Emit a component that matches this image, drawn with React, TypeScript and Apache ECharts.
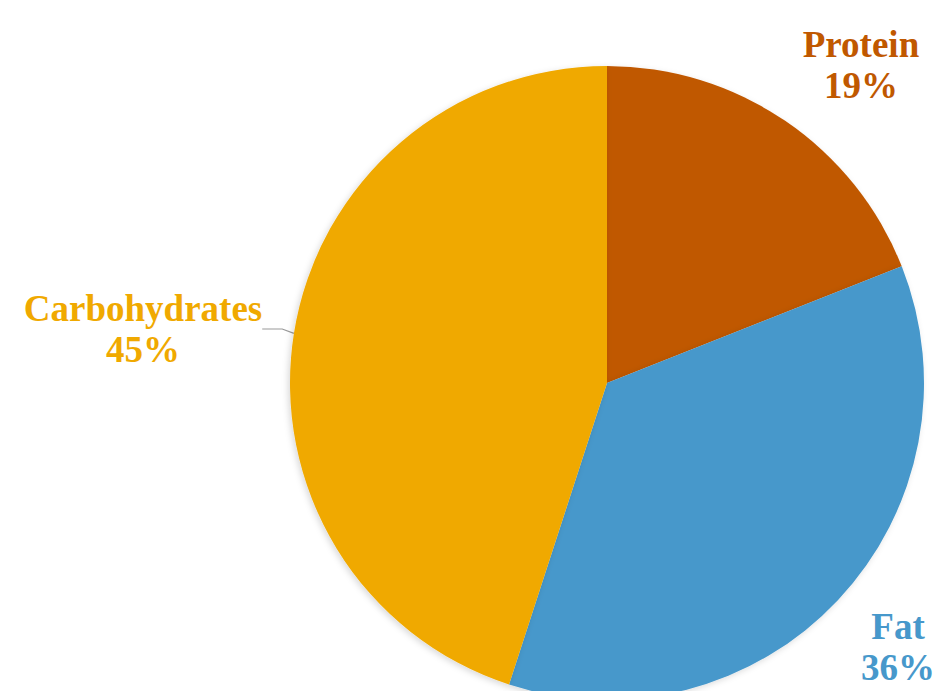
import React, { useEffect, useRef } from "react";
import * as echarts from "echarts";

const categories = ["Protein", "Fat", "Carbohydrates"];
const values = [19, 36, 45];
const colors = ["#C05800", "#4798CB", "#F0A900"];
const labelPositions: [number, number][] = [
  [861, 65],
  [898, 647],
  [143, 329],
];

export default function App() {
  const ref = useRef<HTMLDivElement>(null);
  useEffect(() => {
    if (!ref.current) return;
    const chart = echarts.init(ref.current, null, { renderer: "svg" });
    chart.setOption({
      animation: false,
      backgroundColor: "#ffffff",
      series: [
        {
          type: "pie",
          center: [607, 383],
          radius: 317,
          startAngle: 90,
          clockwise: true,
          data: categories.map((name, i) => ({
            name,
            value: values[i],
            itemStyle: { color: colors[i] },
            label: { color: colors[i] },
            labelLine: { show: i === 2 },
          })),
          itemStyle: {
            shadowBlur: 6,
            shadowColor: "rgba(0,0,0,0.15)",
            shadowOffsetX: -2,
            shadowOffsetY: 2,
          },
          label: {
            show: true,
            position: "outside",
            formatter: "{b}\n{d}%",
            fontFamily: "'Liberation Serif', 'Times New Roman', serif",
            fontWeight: "bold",
            fontSize: 37,
            lineHeight: 41,
            align: "center",
            overflow: "none",
          },
          labelLine: {
            show: true,
            length: 10,
            length2: 20,
            lineStyle: { color: "#999999", width: 1.2 },
          },
          labelLayout: (params: any) => {
            const p = labelPositions[params.dataIndex];
            return {
              x: p[0],
              y: p[1],
              align: "center",
              verticalAlign: "middle",
            };
          },
        },
      ],
    });
    return () => chart.dispose();
  }, []);
  return (
    <div
      ref={ref}
      style={{ position: "absolute", left: 0, top: 0, width: 935, height: 691 }}
    />
  );
}
